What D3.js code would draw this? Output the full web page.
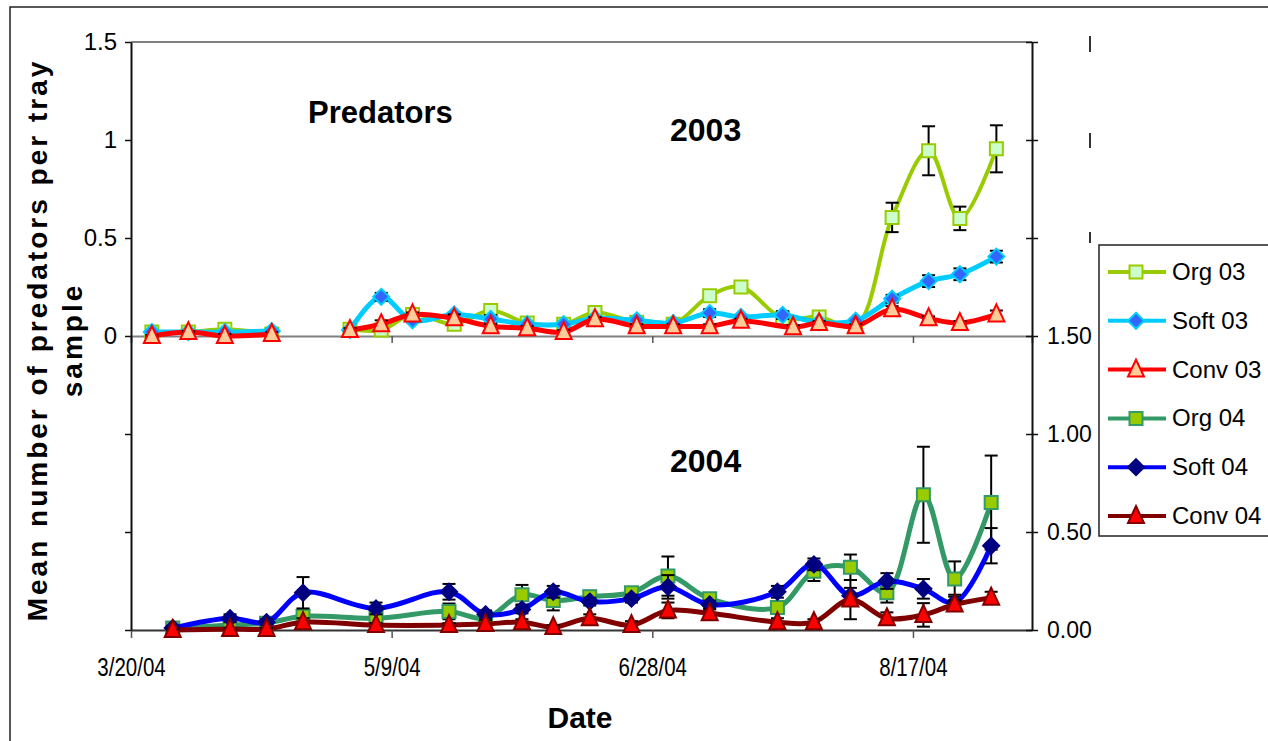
<!DOCTYPE html>
<html>
<head>
<meta charset="utf-8">
<script src="https://cdn.jsdelivr.net/npm/d3@7"></script>
<style>
body { margin: 0; background: #fff; }
svg { display: block; font-family: "Liberation Sans", Arial, sans-serif; }
</style>
</head>
<body>
<div id="container"></div>
<script>
const width = 1268, height = 741;

// x tick labels (every 50 days)
const tickDates = ['3/20', '5/9', '6/28', '8/17'];

// 2003 samples, plotted on the 2004 calendar (null = no sample, line breaks)
const dates03 = ['3/24','3/31','4/7','4/16','4/24','5/1','5/7','5/13','5/21','5/28','6/4','6/11','6/17','6/25','7/2','7/9','7/15','7/23','7/30','8/6','8/13','8/20','8/26','9/2'];
const datesConv03 = ['3/24','3/31','4/7','4/16','4/24','5/1','5/7','5/13','5/21','5/28','6/4','6/11','6/17','6/25','7/2','7/9','7/15','7/25','7/30','8/6','8/13','8/20','8/26','9/2'];
const org03  = [0.02,0.02,0.035,0.01,null,0.035,0.03,0.11,0.06,0.13,0.066,0.06,0.12,0.07,0.06,0.205,0.25,0.09,0.097,0.05,0.605,0.945,0.6,0.955];
const soft03 = [0.02,0.02,0.02,0.025,null,0.03,0.2,0.08,0.11,0.087,0.06,0.06,0.09,0.08,0.066,0.117,0.097,0.107,0.07,0.078,0.19,0.28,0.315,0.405];
const conv03 = [0.0,0.02,0.0,0.01,null,0.03,0.06,0.11,0.09,0.05,0.04,0.02,0.086,0.05,0.05,0.05,0.078,0.045,0.066,0.05,0.137,0.09,0.066,0.11];
const org03Err  = [0.01,0.01,0.01,0.01,null,0.01,0.02,0.02,0.02,0.02,0.02,0.01,0.02,0.01,0.01,0.02,0.02,0.02,0.02,0.01,0.075,0.125,0.06,0.12];
const soft03Err = [0.005,0.005,0.005,0.01,null,0.01,0.02,0.01,0.01,0.02,0.01,0.01,0.01,0.01,0.01,0.02,0.01,0.02,0.01,0.01,0.02,0.03,0.03,0.03];
const conv03Err = [0.005,0.005,0.01,0.01,null,0.01,0.02,0.01,0.02,0.01,0.01,0.01,0.01,0.01,0.01,0.01,0.01,0.01,0.01,0.01,0.015,0.01,0.01,0.02];

// 2004 samples
const dates04 = ['3/28','4/8','4/15','4/22','5/6','5/20','5/27','6/3','6/9','6/16','6/24','7/1','7/9','7/22','7/29','8/5','8/12','8/19','8/25','9/1'];
const org04  = [0.01,0.025,0.035,0.07,0.06,0.095,0.06,0.18,0.15,0.17,0.19,0.275,0.16,0.115,0.3,0.32,0.19,0.69,0.26,0.65];
const soft04 = [0.01,0.06,0.04,0.19,0.11,0.195,0.08,0.105,0.195,0.145,0.16,0.22,0.13,0.195,0.335,0.175,0.25,0.21,0.14,0.43];
const conv04 = [0.0,0.005,0.005,0.04,0.025,0.025,0.03,0.04,0.015,0.06,0.025,0.1,0.085,0.04,0.04,0.155,0.06,0.077,0.13,0.165];
const org04Err  = [0.01,0.01,0.01,0.02,0.02,0.04,0.02,0.05,0.05,0.03,0.02,0.1,0.02,0.03,0.05,0.065,0.05,0.245,0.09,0.24];
const soft04Err = [0.005,0.02,0.015,0.08,0.03,0.04,0.02,0.02,0.03,0.02,0.02,0.06,0.02,0.03,0.03,0.04,0.04,0.05,0.04,0.09];
const conv04Err = [0.005,0.005,0.005,0.02,0.01,0.01,0.02,0.015,0.01,0.02,0.02,0.04,0.02,0.02,0.015,0.1,0.03,0.06,0.02,0.03];

const day = s => { const [m, d] = s.split('/'); return new Date(2004, +m - 1, +d); };
const fmtDate = d => `${d.getMonth() + 1}/${d.getDate()}/${String(d.getFullYear()).slice(2)}`;

const svg = d3.select('#container')
    .append('svg')
    .attr('width', width)
    .attr('height', height);

// outer frame
svg.append('rect')
    .attr('x', 10).attr('y', 7)
    .attr('width', 1300).attr('height', 800)
    .attr('fill', 'none').attr('stroke', '#222').attr('stroke-width', 1.5);

// scales
const x = d3.scaleTime()
    .domain([new Date(2004, 2, 20), new Date(2004, 8, 8, 20)])
    .range([131, 1032]);
const yL = d3.scaleLinear().domain([-1.5, 1.5]).range([630, 42]);  // 2003 (left)
const yR = d3.scaleLinear().domain([0, 3]).range([630, 42]);       // 2004 (right)

// plot top border and the 2003 zero line
svg.append('line')
    .attr('x1', 131).attr('x2', 1032).attr('y1', 42).attr('y2', 42)
    .attr('stroke', '#808080').attr('stroke-width', 2);

const mid = svg.append('g')
    .attr('transform', `translate(0,${yL(0)})`)
    .call(d3.axisBottom(x).tickValues(tickDates.slice(1).map(day)).tickSize(7).tickFormat(''));
mid.select('.domain').attr('stroke', '#808080').attr('stroke-width', 2);
mid.selectAll('.tick line').attr('stroke', '#555').attr('stroke-width', 1.5);

// bottom date axis
const xAxis = svg.append('g')
    .attr('transform', `translate(0,630)`)
    .call(d3.axisBottom(x).tickValues(tickDates.map(day)).tickSize(8).tickSizeOuter(0).tickFormat(fmtDate));
xAxis.select('.domain').attr('stroke', '#333').attr('stroke-width', 2);
xAxis.selectAll('.tick line').attr('stroke', '#555').attr('stroke-width', 1.5);
xAxis.selectAll('.tick text')
    .attr('y', 46).attr('dy', null)
    .attr('font-size', 25).attr('fill', '#000')
    .attr('transform', 'scale(0.82,1)');

// left axis (2003)
const leftAxis = svg.append('g')
    .attr('transform', 'translate(131,0)')
    .call(d3.axisLeft(yL).tickValues([-1.5, -1, -0.5, 0, 0.5, 1, 1.5]).tickSize(6).tickSizeOuter(0)
        .tickFormat(d => d < 0 ? '' : String(d)));
leftAxis.select('.domain').attr('stroke', '#111').attr('stroke-width', 2);
leftAxis.selectAll('.tick line').attr('stroke', '#111').attr('stroke-width', 1.5);
leftAxis.selectAll('.tick text')
    .attr('x', -14).attr('font-size', 24).attr('fill', '#000');

// right axis (2004)
const rightAxis = svg.append('g')
    .attr('transform', 'translate(1032,0)')
    .call(d3.axisRight(yR).tickValues([0, 0.5, 1, 1.5, 2, 2.5, 3]).tickSize(6).tickSizeOuter(0)
        .tickFormat(d => d <= 1.5 ? d.toFixed(2) : ''));
rightAxis.select('.domain').attr('stroke', '#111').attr('stroke-width', 2);
rightAxis.selectAll('.tick line').attr('x1', -6).attr('x2', 6).attr('stroke', '#111').attr('stroke-width', 1.5);
rightAxis.selectAll('.tick text')
    .attr('x', 15).attr('font-size', 23).attr('fill', '#000');

// clipped remains of hidden right labels
[[36, 52], [133, 148], [232, 243]].forEach(([a, b]) => {
    svg.append('line')
        .attr('x1', 1090).attr('x2', 1090).attr('y1', a).attr('y2', b)
        .attr('stroke', '#333').attr('stroke-width', 2);
});

// marker shapes
const markerPath = {
    square: 'M-6.5,-6.5H6.5V6.5H-6.5Z',
    diamond: 'M0,-8L8,0L0,8L-8,0Z',
    triangle: 'M0,-10L8,7L-8,7Z'
};

const series = [
    { name: 'Org 03',  dates: dates03,     values: org03,  err: org03Err,  y: yL, line: '#99CC00', width: 4,   shape: 'square',   fill: '#CCFFCC', stroke: '#99CC00' },
    { name: 'Soft 03', dates: dates03,     values: soft03, err: soft03Err, y: yL, line: '#00CCFF', width: 5,   shape: 'diamond',  fill: '#3366FF', stroke: '#00CCFF' },
    { name: 'Conv 03', dates: datesConv03, values: conv03, err: conv03Err, y: yL, line: '#FF0000', width: 5,   shape: 'triangle', fill: '#FFCC99', stroke: '#FF0000' },
    { name: 'Org 04',  dates: dates04,     values: org04,  err: org04Err,  y: yR, line: '#339966', width: 5,   shape: 'square',   fill: '#99CC00', stroke: '#339966' },
    { name: 'Soft 04', dates: dates04,     values: soft04, err: soft04Err, y: yR, line: '#0000FF', width: 5,   shape: 'diamond',  fill: '#000080', stroke: '#000080' },
    { name: 'Conv 04', dates: dates04,     values: conv04, err: conv04Err, y: yR, line: '#800000', width: 5,   shape: 'triangle', fill: '#FF0000', stroke: '#800000' }
];

const plot = svg.append('g').attr('class', 'series');

series.forEach(s => {
    const pts = s.dates.map((d, i) => ({ date: day(d), v: s.values[i], e: s.err[i] }));
    const g = plot.append('g');

    const line = d3.line()
        .defined(d => d.v != null)
        .x(d => x(d.date))
        .y(d => s.y(d.v))
        .curve(d3.curveCatmullRom.alpha(0.5));

    g.append('path')
        .datum(pts)
        .attr('d', line)
        .attr('fill', 'none')
        .attr('stroke', s.line)
        .attr('stroke-width', s.width)
        .attr('stroke-linejoin', 'round');

    const valid = pts.filter(d => d.v != null);

    // error bars
    const eb = g.append('g').selectAll('g')
        .data(valid)
        .enter()
        .append('g')
        .attr('stroke', '#000')
        .attr('stroke-width', 2);
    eb.append('line')
        .attr('x1', d => x(d.date)).attr('x2', d => x(d.date))
        .attr('y1', d => s.y(d.v - d.e)).attr('y2', d => s.y(d.v + d.e));
    eb.append('line')
        .attr('x1', d => x(d.date) - 6.5).attr('x2', d => x(d.date) + 6.5)
        .attr('y1', d => s.y(d.v + d.e)).attr('y2', d => s.y(d.v + d.e));
    eb.append('line')
        .attr('x1', d => x(d.date) - 6.5).attr('x2', d => x(d.date) + 6.5)
        .attr('y1', d => s.y(d.v - d.e)).attr('y2', d => s.y(d.v - d.e));

    // markers
    g.append('g').selectAll('path')
        .data(valid)
        .enter()
        .append('path')
        .attr('d', markerPath[s.shape])
        .attr('transform', d => `translate(${x(d.date)},${s.y(d.v)})`)
        .attr('fill', s.fill)
        .attr('stroke', s.stroke)
        .attr('stroke-width', 2);
});

// legend
const legend = svg.append('g');
legend.append('rect')
    .attr('x', 1099).attr('y', 245)
    .attr('width', 200).attr('height', 291)
    .attr('fill', '#fff').attr('stroke', '#222').attr('stroke-width', 1.5);

const items = legend.selectAll('.item')
    .data(series)
    .enter()
    .append('g')
    .attr('class', 'item')
    .attr('transform', (d, i) => `translate(0,${272 + i * 48.8})`);
items.append('line')
    .attr('x1', 1108).attr('x2', 1166)
    .attr('stroke', d => d.line).attr('stroke-width', 4);
items.append('path')
    .attr('d', d => markerPath[d.shape])
    .attr('transform', 'translate(1136,0)')
    .attr('fill', d => d.fill).attr('stroke', d => d.stroke).attr('stroke-width', 2);
items.append('text')
    .attr('x', 1172).attr('y', 8)
    .attr('font-size', 24)
    .text(d => d.name);

// titles
svg.append('text')
    .attr('x', 308).attr('y', 123)
    .attr('font-size', 31).attr('font-weight', 'bold')
    .text('Predators');
svg.append('text')
    .attr('x', 670).attr('y', 141)
    .attr('font-size', 32).attr('font-weight', 'bold')
    .text('2003');
svg.append('text')
    .attr('x', 670).attr('y', 472)
    .attr('font-size', 32).attr('font-weight', 'bold')
    .text('2004');
svg.append('text')
    .attr('x', 580).attr('y', 728)
    .attr('text-anchor', 'middle')
    .attr('font-size', 30).attr('font-weight', 'bold')
    .text('Date');

// y axis title, two lines
const yTitle = svg.append('text')
    .attr('transform', 'translate(0,340) rotate(-90)')
    .attr('text-anchor', 'middle')
    .attr('font-size', 28).attr('font-weight', 'bold')
    .attr('letter-spacing', 3);
yTitle.append('tspan').attr('x', 0).attr('y', 47).text('Mean number of predators per tray');
yTitle.append('tspan').attr('x', 0).attr('y', 82).text('sample');
</script>
</body>
</html>
